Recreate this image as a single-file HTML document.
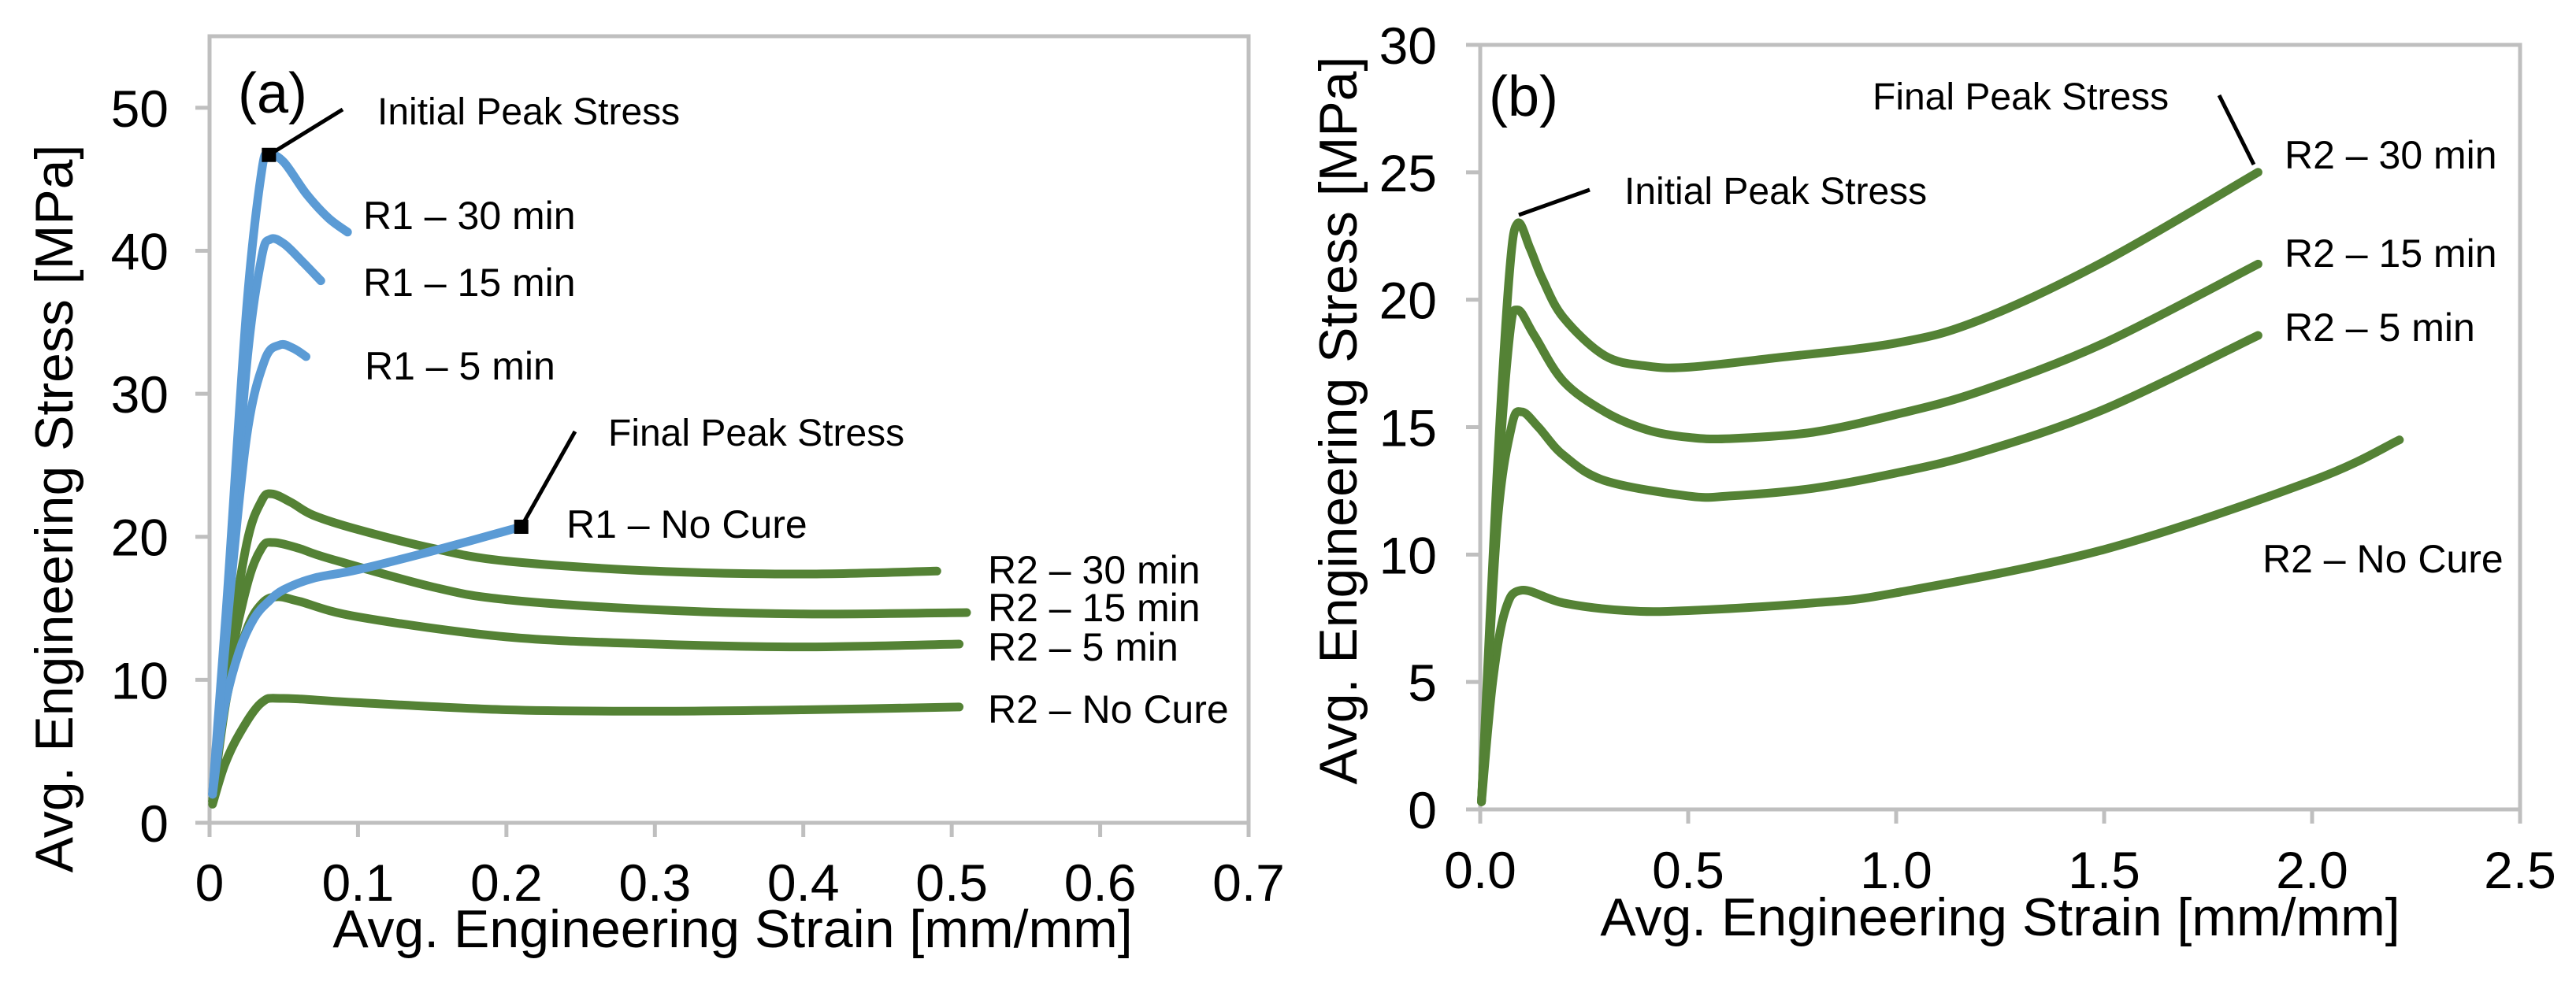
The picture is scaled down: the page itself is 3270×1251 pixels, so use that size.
<!DOCTYPE html>
<html><head><meta charset="utf-8"><style>
html,body{margin:0;padding:0;background:#fff;}
svg{display:block;}
text{font-family:"Liberation Sans",sans-serif;fill:#000;}
</style></head><body>
<svg id="fig" width="3270" height="1251" viewBox="0 0 3270 1251">
<g id="ca"></g>
<g id="cb"></g>
</svg>
<script>
// ---- Chart (a) data ----
const aXTicks = [0, 0.1, 0.2, 0.3, 0.4, 0.5, 0.6, 0.7];
const aXTickLabels = ["0", "0.1", "0.2", "0.3", "0.4", "0.5", "0.6", "0.7"];
const aYTicks = [0, 10, 20, 30, 40, 50];
const aR1_30x = [0.002, 0.012, 0.025, 0.035, 0.04, 0.05, 0.065, 0.08, 0.093];
const aR1_30y = [2, 16, 36, 45.5, 46.7, 46.2, 44, 42.3, 41.3];
const aR1_15x = [0.002, 0.012, 0.025, 0.035, 0.041, 0.05, 0.062, 0.075];
const aR1_15y = [2, 15, 32, 39.5, 40.8, 40.5, 39.3, 37.9];
const aR1_5x = [0.002, 0.012, 0.025, 0.037, 0.047, 0.056, 0.065];
const aR1_5y = [2, 14, 27, 32.3, 33.4, 33.2, 32.6];
const aR1_NCx = [0.002, 0.01, 0.02, 0.03, 0.04, 0.05, 0.07, 0.1, 0.15, 0.21];
const aR1_NCy = [2, 8, 12, 14.3, 15.5, 16.3, 17.1, 17.7, 19.0, 20.7];
const aR2_30x = [0.002, 0.012, 0.025, 0.035, 0.042, 0.055, 0.07, 0.1, 0.15, 0.2, 0.3, 0.4, 0.49];
const aR2_30y = [1.5, 11, 19.5, 22.5, 23.0, 22.4, 21.5, 20.5, 19.2, 18.3, 17.6, 17.4, 17.6];
const aR2_15x = [0.002, 0.012, 0.025, 0.035, 0.043, 0.06, 0.08, 0.15, 0.2, 0.3, 0.4, 0.51];
const aR2_15y = [1.5, 10, 16.5, 19.2, 19.6, 19.2, 18.5, 16.5, 15.6, 14.9, 14.6, 14.7];
const aR2_5x = [0.002, 0.012, 0.025, 0.035, 0.045, 0.06, 0.1, 0.2, 0.3, 0.4, 0.505];
const aR2_5y = [1.5, 9, 13.5, 15.3, 15.8, 15.5, 14.4, 13.0, 12.5, 12.3, 12.5];
const aR2_NCx = [0.002, 0.01, 0.02, 0.035, 0.05, 0.1, 0.2, 0.3, 0.4, 0.505];
const aR2_NCy = [1.3, 4, 6.2, 8.4, 8.7, 8.4, 7.9, 7.8, 7.9, 8.1];

// ---- Chart (b) data ----
const bXTicks = [0, 0.5, 1.0, 1.5, 2.0, 2.5];
const bXTickLabels = ["0.0", "0.5", "1.0", "1.5", "2.0", "2.5"];
const bYTicks = [0, 5, 10, 15, 20, 25, 30];
const bR2_30x = [0.003, 0.04, 0.07, 0.09, 0.12, 0.15, 0.2, 0.3, 0.4, 0.5, 0.7, 1.0, 1.2, 1.5, 1.87];
const bR2_30y = [0.3, 13, 21, 23.0, 22.0, 20.8, 19.3, 17.8, 17.4, 17.35, 17.7, 18.3, 19.2, 21.5, 25.0];
const bR2_15x = [0.003, 0.04, 0.07, 0.09, 0.13, 0.2, 0.3, 0.4, 0.5, 0.6, 0.8, 1.0, 1.2, 1.5, 1.87];
const bR2_15y = [0.3, 12, 18.5, 19.6, 18.6, 16.8, 15.6, 14.9, 14.6, 14.55, 14.8, 15.5, 16.4, 18.3, 21.4];
const bR2_5x = [0.003, 0.04, 0.075, 0.1, 0.14, 0.2, 0.3, 0.5, 0.6, 0.8, 1.0, 1.2, 1.5, 1.87];
const bR2_5y = [0.3, 11, 15.0, 15.6, 15.0, 13.9, 12.9, 12.3, 12.3, 12.6, 13.2, 14.0, 15.7, 18.6];
const bR2_NCx = [0.003, 0.03, 0.06, 0.1, 0.2, 0.35, 0.5, 0.8, 1.0, 1.5, 2.0, 2.21];
const bR2_NCy = [0.3, 5, 7.8, 8.6, 8.1, 7.8, 7.8, 8.1, 8.5, 10.2, 12.9, 14.5];

const NS = "http://www.w3.org/2000/svg";
function mk(parent, tag, attrs, txt) {
  const e = document.createElementNS(NS, tag);
  for (const k in attrs) e.setAttribute(k, attrs[k]);
  if (txt !== undefined) e.textContent = txt;
  parent.appendChild(e);
  return e;
}
function lin(d0, d1, r0, r1) { return v => r0 + (v - d0) / (d1 - d0) * (r1 - r0); }

function axes(g, sx, sy, xT, xL, yT, X0, X1, Y0, Y1, yLabelX, xLabelY) {
  const frame = mk(g, "rect", {x: X0, y: Y1, width: X1 - X0, height: Y0 - Y1, fill: "none", stroke: "#BFBFBF", "stroke-width": 5});
  
  
  xT.forEach((v, i) => {
    const t = mk(g, "line", {x1: sx(v), x2: sx(v), y1: Y0, y2: Y0 + 18, stroke: "#BFBFBF", "stroke-width": 5});
    
    
    const l = mk(g, "text", {x: sx(v), y: xLabelY, "font-size": 66, "text-anchor": "middle"}, xL[i]);
    
    
  });
  yT.forEach(v => {
    const t = mk(g, "line", {x1: X0 - 18, x2: X0, y1: sy(v), y2: sy(v), stroke: "#BFBFBF", "stroke-width": 5});
    
    
    const l = mk(g, "text", {x: yLabelX, y: sy(v) + 24, "font-size": 66, "text-anchor": "end"}, String(v));
    
    
  });
}
function series(g, sx, sy, xs, ys, color, name) {
  const P = xs.map((x, i) => [sx(x), sy(ys[i])]);
  let d = "M" + P[0][0].toFixed(1) + "," + P[0][1].toFixed(1);
  for (let i = 0; i < P.length - 1; i++) {
    const p0 = P[Math.max(0, i - 1)], p1 = P[i], p2 = P[i + 1], p3 = P[Math.min(P.length - 1, i + 2)];
    const c1 = [p1[0] + (p2[0] - p0[0]) / 6, p1[1] + (p2[1] - p0[1]) / 6];
    const c2 = [p2[0] - (p3[0] - p1[0]) / 6, p2[1] - (p3[1] - p1[1]) / 6];
    d += " C" + c1[0].toFixed(1) + "," + c1[1].toFixed(1) + " " + c2[0].toFixed(1) + "," + c2[1].toFixed(1) + " " + p2[0].toFixed(1) + "," + p2[1].toFixed(1);
  }
  const p = mk(g, "path", {d: d, fill: "none", stroke: color, "stroke-width": 11, "stroke-linejoin": "round", "stroke-linecap": "round"});
  
  
}
function label(g, x, y, s, txt, name) {
  const t = mk(g, "text", {x: x, y: y, "font-size": s}, txt);
  
  
}
function leader(g, x1, y1, x2, y2, name) {
  const l = mk(g, "line", {x1: x1, y1: y1, x2: x2, y2: y2, stroke: "#000", "stroke-width": 5});
  
  
}
const BLUE = "#5B9BD5", GREEN = "#548235";

// Chart (a)
(function () {
  const g = document.getElementById("ca");
  const sx = lin(0, 0.7, 266, 1585), sy = lin(0, 55, 1045, 46);
  axes(g, sx, sy, aXTicks, aXTickLabels, aYTicks, 266, 1585, 1045, 46, 214, 1144);
  series(g, sx, sy, aR2_NCx, aR2_NCy, GREEN, "r2-no-cure-line");
  series(g, sx, sy, aR2_5x, aR2_5y, GREEN, "r2-5min-line");
  series(g, sx, sy, aR2_15x, aR2_15y, GREEN, "r2-15min-line");
  series(g, sx, sy, aR2_30x, aR2_30y, GREEN, "r2-30min-line");
  series(g, sx, sy, aR1_NCx, aR1_NCy, BLUE, "r1-no-cure-line");
  series(g, sx, sy, aR1_5x, aR1_5y, BLUE, "r1-5min-line");
  series(g, sx, sy, aR1_15x, aR1_15y, BLUE, "r1-15min-line");
  series(g, sx, sy, aR1_30x, aR1_30y, BLUE, "r1-30min-line");
  const m1 = mk(g, "rect", {x: sx(0.04) - 9, y: sy(46.7) - 9, width: 18, height: 18, fill: "#000"});
  
  
  const m2 = mk(g, "rect", {x: sx(0.21) - 9, y: sy(20.7) - 9, width: 18, height: 18, fill: "#000"});
  
  
  leader(g, sx(0.04), sy(46.7), 435, 139, "initial-peak-leader");
  leader(g, sx(0.21), sy(20.7), 730, 548, "final-peak-leader");
  label(g, 302, 143, 72, "(a)", "panel-label-a");
  label(g, 479, 158, 48, "Initial Peak Stress", "initial-peak-label");
  label(g, 461, 291, 50, "R1 – 30 min", "r1-30min-label");
  label(g, 461, 376, 50, "R1 – 15 min", "r1-15min-label");
  label(g, 463, 482, 50, "R1 – 5 min", "r1-5min-label");
  label(g, 772, 566, 48, "Final Peak Stress", "final-peak-label");
  label(g, 719, 683, 50, "R1 – No Cure", "r1-no-cure-label");
  label(g, 1254, 741, 50, "R2 – 30 min", "r2-30min-label");
  label(g, 1254, 789, 50, "R2 – 15 min", "r2-15min-label");
  label(g, 1254, 839, 50, "R2 – 5 min", "r2-5min-label");
  label(g, 1254, 918, 50, "R2 – No Cure", "r2-no-cure-label");
  const xt = mk(g, "text", {x: 930, y: 1203, "font-size": 68, "text-anchor": "middle"}, "Avg. Engineering Strain [mm/mm]");
  
  
  const yt = mk(g, "text", {x: 0, y: 0, "font-size": 68, "text-anchor": "middle", transform: "translate(92,646) rotate(-90)"}, "Avg. Engineering Stress [MPa]");
  
  
})();

// Chart (b)
(function () {
  const g = document.getElementById("cb");
  const sx = lin(0, 2.5, 1879, 3199), sy = lin(0, 30, 1028, 57);
  axes(g, sx, sy, bXTicks, bXTickLabels, bYTicks, 1879, 3199, 1028, 57, 1824, 1128);
  series(g, sx, sy, bR2_NCx, bR2_NCy, GREEN, "r2-no-cure-line");
  series(g, sx, sy, bR2_5x, bR2_5y, GREEN, "r2-5min-line");
  series(g, sx, sy, bR2_15x, bR2_15y, GREEN, "r2-15min-line");
  series(g, sx, sy, bR2_30x, bR2_30y, GREEN, "r2-30min-line");
  leader(g, 1928, 273, 2018, 241, "initial-peak-leader");
  leader(g, 2817, 121, 2861, 209, "final-peak-leader");
  label(g, 1890, 147, 72, "(b)", "panel-label-b");
  label(g, 2377, 139, 48, "Final Peak Stress", "final-peak-label");
  label(g, 2062, 259, 48, "Initial Peak Stress", "initial-peak-label");
  label(g, 2900, 214, 50, "R2 – 30 min", "r2-30min-label");
  label(g, 2900, 339, 50, "R2 – 15 min", "r2-15min-label");
  label(g, 2900, 433, 50, "R2 – 5 min", "r2-5min-label");
  label(g, 2872, 727, 50, "R2 – No Cure", "r2-no-cure-label");
  const xt = mk(g, "text", {x: 2539, y: 1188, "font-size": 68, "text-anchor": "middle"}, "Avg. Engineering Strain [mm/mm]");
  
  
  const yt = mk(g, "text", {x: 0, y: 0, "font-size": 68, "text-anchor": "middle", transform: "translate(1722,534) rotate(-90)"}, "Avg. Engineering Stress [MPa]");
  
  
})();
</script>
</body></html>
